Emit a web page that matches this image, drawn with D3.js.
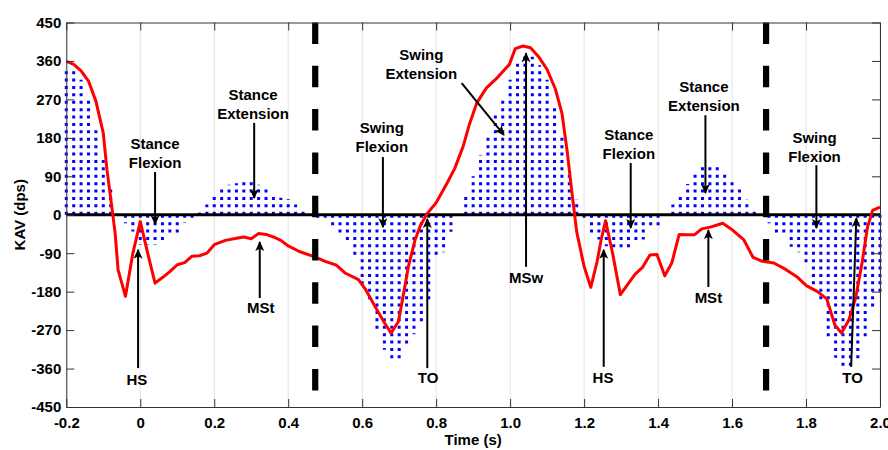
<!DOCTYPE html>
<html lang="en">
<head>
<meta charset="UTF-8">
<title>KAV</title>
<style>
    body { margin: 0; background: #fff; }
    text { font-family: "Liberation Sans", Arial, sans-serif; font-weight: bold; }
</style>
</head>
<body>
<svg width="888" height="450" id="svg"></svg>
<script src="https://d3js.org/d3.v7.min.js"></script>
<script>
    // blue bars, one every 0.02 s from -0.2 s
    const binStart = -0.2
    const binStep = 0.02
    const blueKav = [
        340, 344, 316, 273, 207, 129, 63, 0, -20, -39,
        -70, -70, -70, -66, -51, -51, -19, -15, 5, 24,
        43, 62, 70, 74, 82, 76, 70, 60, 47, 40,
        36, 24, 8, 0, -12, -15, -25, -50, -67, -100,
        -163, -205, -270, -316, -342, -342, -310, -280, -260, -205,
        -100, -88, -40, 0, 43, 90, 140, 183, 234, 275,
        316, 360, 371, 370, 350, 316, 258, 185, 101, 35,
        -15, -45, -58, -74, -82, -82, -82, -62, -58, -31,
        -25, 0, 24, 47, 72, 98, 113, 113, 113, 98,
        82, 60, 35, 8, 0, -20, -47, -51, -75, -88,
        -120, -165, -200, -290, -335, -355, -359, -340, -290, -215,
        -180
    ]

    // red KAV curve
    const redTime = [-0.20, -0.18, -0.16, -0.14, -0.12, -0.10, -0.09, -0.077, -0.068, -0.06,
        -0.04, -0.02, 0.00, 0.02, 0.04, 0.06, 0.08, 0.10, 0.12, 0.14,
        0.16, 0.18, 0.20, 0.23, 0.26, 0.28, 0.30, 0.32, 0.34, 0.36,
        0.38, 0.40, 0.43, 0.47, 0.50, 0.53, 0.555, 0.59, 0.61, 0.635,
        0.658, 0.678, 0.698, 0.712, 0.725, 0.743, 0.757, 0.775, 0.80, 0.83,
        0.85, 0.873, 0.89, 0.91, 0.936, 0.962, 0.998, 1.014, 1.035, 1.055,
        1.077, 1.10, 1.122, 1.14, 1.154, 1.168, 1.18, 1.20, 1.218, 1.235,
        1.246, 1.258, 1.277, 1.298, 1.338, 1.358, 1.378, 1.397, 1.418, 1.437,
        1.457, 1.478, 1.498, 1.518, 1.541, 1.575, 1.603, 1.632, 1.657, 1.682,
        1.713, 1.745, 1.775, 1.801, 1.831, 1.856, 1.878, 1.896, 1.916, 1.934,
        1.952, 1.966, 1.98, 2.00]
    const redKav = [359, 352, 337, 313, 266, 191, 105, 19, -43, -129,
        -191, -90, -16, -90, -160, -147, -133, -117, -112, -97,
        -96, -90, -70, -60, -55, -52, -56, -44, -46, -52,
        -60, -73, -86, -98, -109, -118, -137, -152, -176, -215,
        -250, -277, -250, -184, -121, -59, -26, 2, 28, 75,
        108, 160, 212, 262, 297, 318, 352, 389, 395, 391,
        370, 340, 295, 238, 150, 45, -40, -121, -170, -110,
        -59, -14, -90, -187, -139, -123, -94, -93, -143, -113,
        -46, -47, -47, -33, -29, -20, -37, -59, -100, -109,
        -113, -128, -145, -166, -180, -197, -258, -277, -246, -195,
        -110, -30, 10, 18]

    // thick dashed phase boundaries
    const phaseTimes = [0.473, 1.692]

    const xTicks = [-0.2, 0, 0.2, 0.4, 0.6, 0.8, 1.0, 1.2, 1.4, 1.6, 1.8, 2.0]
    const xTickLabels = ["-0.2", "0", "0.2", "0.4", "0.6", "0.8", "1.0", "1.2", "1.4", "1.6", "1.8", "2.0"]
    const yTicks = [-450, -360, -270, -180, -90, 0, 90, 180, 270, 360, 450]

    // annotations: label lines, label anchor (t, kav), arrow from -> to
    const notes = [
        { lines: ["Stance", "Flexion"], at: [0.04, 154], from: [0.04, 100], to: [0.04, -22] },
        { lines: ["Stance", "Extension"], at: [0.305, 268], from: [0.308, 215], to: [0.308, 39] },
        { lines: ["Swing", "Flexion"], at: [0.653, 191], from: [0.656, 135], to: [0.656, -29] },
        { lines: ["Swing", "Extension"], at: [0.76, 362], from: [0.869, 308], to: [0.983, 187] },
        { lines: ["MSw"], at: [1.043, -160], from: [1.043, -122], to: [1.043, 378] },
        { lines: ["TO"], at: [0.778, -394], from: [0.776, -359], to: [0.776, -10] },
        { lines: ["HS"], at: [-0.009, -398], from: [-0.006, -359], to: [-0.006, -82] },
        { lines: ["MSt"], at: [0.326, -230], from: [0.323, -195], to: [0.323, -64] },
        { lines: ["Stance", "Flexion"], at: [1.321, 175], from: [1.326, 121], to: [1.326, -31] },
        { lines: ["Stance", "Extension"], at: [1.524, 288], from: [1.528, 233], to: [1.528, 51] },
        { lines: ["Swing", "Flexion"], at: [1.823, 169], from: [1.828, 116], to: [1.828, -31] },
        { lines: ["HS"], at: [1.251, -394], from: [1.253, -356], to: [1.253, -82] },
        { lines: ["MSt"], at: [1.536, -206], from: [1.536, -169], to: [1.536, -36] },
        { lines: ["TO"], at: [1.926, -394], from: [1.922, -356], to: [1.936, -8] }
    ]

    const svg = d3.select("svg#svg")
    const width = +svg.attr("width")
    const height = +svg.attr("height")
    const padding = { top: 22.5, right: 8, bottom: 43, left: 66.3 }

    const xScale = d3.scaleLinear().domain([-0.2, 2.0]).range([padding.left, width - padding.right])
    const yScale = d3.scaleLinear().domain([-450, 450]).range([height - padding.bottom, padding.top])

    const defs = svg.append("defs")
    defs.append("clipPath").attr("id", "plot").append("rect")
        .attr("x", padding.left).attr("y", padding.top)
        .attr("width", xScale(2.0) - padding.left).attr("height", yScale(-450) - padding.top)
    defs.append("marker").attr("id", "arrow")
        .attr("viewBox", "0 -5 10 10").attr("refX", 9).attr("refY", 0)
        .attr("markerWidth", 10).attr("markerHeight", 10)
        .attr("markerUnits", "userSpaceOnUse").attr("orient", "auto")
        .append("path").attr("d", "M0,-4.5L10,0L0,4.5L2.5,0Z").attr("fill", "#000")

    // vertical grid
    svg.append("g").selectAll("line").data(xTicks).join("line")
        .attr("x1", d => xScale(d)).attr("x2", d => xScale(d))
        .attr("y1", yScale(450)).attr("y2", yScale(-450))
        .attr("stroke", "#e2e2e2").attr("stroke-width", 1)

    // dotted blue bars
    const bars = blueKav.map((v, i) => ({ t: binStart + i * binStep, v: v })).filter(d => d.v !== 0)
    svg.append("g").selectAll("line").data(bars).join("line")
        .attr("x1", d => xScale(d.t)).attr("x2", d => xScale(d.t))
        .attr("y1", yScale(0)).attr("y2", d => yScale(d.v))
        .attr("stroke", "#0000ff").attr("stroke-width", 3)
        .attr("stroke-dasharray", "3,4.4")

    // zero line
    svg.append("line")
        .attr("x1", xScale(-0.2)).attr("x2", xScale(2.0))
        .attr("y1", yScale(0)).attr("y2", yScale(0))
        .attr("stroke", "#000").attr("stroke-width", 3.2)

    // red curve
    const line = d3.line().x(d => xScale(d[0])).y(d => yScale(d[1]))
    svg.append("path").datum(redTime.map((t, i) => [t, redKav[i]]))
        .attr("clip-path", "url(#plot)")
        .attr("d", line)
        .attr("fill", "none").attr("stroke", "#ff0000").attr("stroke-width", 3)
        .attr("stroke-linejoin", "round")

    // phase boundaries
    svg.append("g").selectAll("line").data(phaseTimes).join("line")
        .attr("x1", d => xScale(d)).attr("x2", d => xScale(d))
        .attr("y1", yScale(450)).attr("y2", yScale(-450))
        .attr("stroke", "#000").attr("stroke-width", 6.2)
        .attr("stroke-dasharray", "21.5,21.8")

    // axes, MATLAB box style with inward ticks
    const styleAxis = g => {
        g.selectAll("path, line").attr("stroke", "#333").attr("stroke-width", 1)
        g.selectAll("text").attr("fill", "#000").attr("font-size", 15)
            .attr("font-family", "'Liberation Sans', Arial, sans-serif").attr("font-weight", "bold")
    }
    svg.append("g").attr("transform", `translate(0,${yScale(-450)})`)
        .call(d3.axisBottom(xScale).tickValues(xTicks).tickFormat((d, i) => xTickLabels[i])
            .tickSize(-8).tickSizeOuter(0).tickPadding(10))
        .call(styleAxis)
    svg.append("g").attr("transform", `translate(0,${yScale(450)})`)
        .call(d3.axisTop(xScale).tickValues(xTicks).tickFormat("").tickSize(-8).tickSizeOuter(0))
        .call(styleAxis)
    svg.append("g").attr("transform", `translate(${xScale(-0.2)},0)`)
        .call(d3.axisLeft(yScale).tickValues(yTicks).tickFormat(d => String(d))
            .tickSize(-8).tickSizeOuter(0).tickPadding(5))
        .call(styleAxis)
    svg.append("g").attr("transform", `translate(${xScale(2.0)},0)`)
        .call(d3.axisRight(yScale).tickValues(yTicks).tickFormat("").tickSize(-8).tickSizeOuter(0))
        .call(styleAxis)

    svg.append("text")
        .attr("transform", `translate(25,${yScale(0)}) rotate(-90)`)
        .attr("text-anchor", "middle").attr("font-size", 15)
        .text("KAV (dps)")
    svg.append("text")
        .attr("x", (xScale(-0.2) + xScale(2.0)) / 2).attr("y", 445)
        .attr("text-anchor", "middle").attr("font-size", 15)
        .text("Time (s)")

    // annotations
    const ann = svg.append("g")
    notes.forEach(n => {
        ann.append("line")
            .attr("x1", xScale(n.from[0])).attr("y1", yScale(n.from[1]))
            .attr("x2", xScale(n.to[0])).attr("y2", yScale(n.to[1]))
            .attr("stroke", "#000").attr("stroke-width", 2)
            .attr("marker-end", "url(#arrow)")
        n.lines.forEach((s, i) => {
            ann.append("text")
                .attr("x", xScale(n.at[0])).attr("y", yScale(n.at[1]) + i * 19)
                .attr("text-anchor", "middle").attr("font-size", 15).attr("fill", "#000")
                .text(s)
        })
    })
</script>
</body>
</html>
